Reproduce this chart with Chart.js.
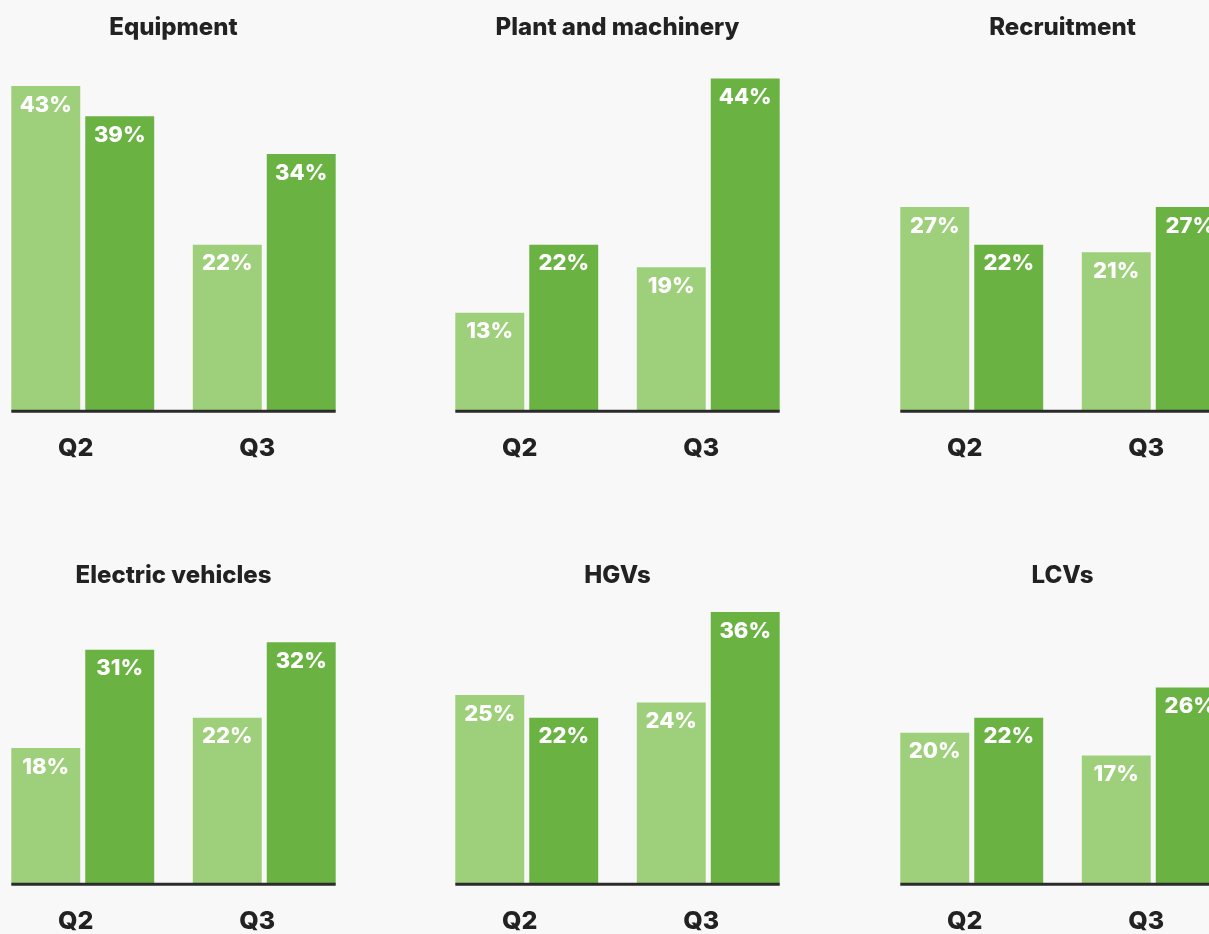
<!DOCTYPE html>
<html>
<head>
<meta charset="utf-8">
<script src="https://cdn.jsdelivr.net/npm/chart.js@4.4.1/dist/chart.umd.min.js"></script>
<style>
  html, body { margin: 0; padding: 0; background: #f8f8f8; overflow: hidden; }
  body { width: 1209px; height: 934px; position: relative; }
  .panel { position: absolute; }
</style>
</head>
<body>
<div id="charts"></div>
<script>
// chart data
const quarters = ["Q2", "Q3"];
const titles = ["Equipment", "Plant and machinery", "Recruitment", "Electric vehicles", "HGVs", "LCVs"];
const lightValues = [
  [43, 22],
  [13, 19],
  [27, 21],
  [18, 22],
  [25, 24],
  [20, 17]
];
const darkValues = [
  [39, 34],
  [22, 44],
  [22, 27],
  [31, 32],
  [22, 36],
  [22, 26]
];

const LIGHT = "#9ecf7a";
const DARK = "#6ab343";
const FONT = "Inter, 'Open Sans', sans-serif";

// panel placement
const colLeft = [-8, 436, 881];
const rows = [
  { top: 1, height: 486, yMax: 45, titleBottom: 28.2 },
  { top: 549, height: 411, yMax: 38, titleBottom: 6.1 }
];

// white % labels inside the top of each bar
const barLabels = {
  id: "barLabels",
  afterDatasetsDraw(chart) {
    const ctx = chart.ctx;
    ctx.save();
    ctx.fillStyle = "#ffffff";
    ctx.font = "800 22px " + FONT;
    ctx.textAlign = "center";
    ctx.textBaseline = "middle";
    chart.data.datasets.forEach((ds, i) => {
      chart.getDatasetMeta(i).data.forEach((bar, j) => {
        ctx.fillText(ds.data[j] + "%", bar.x, bar.y + 19);
      });
    });
    ctx.restore();
  }
};

// baseline under the bars only
const baseLine = {
  id: "baseLine",
  afterDatasetsDraw(chart) {
    const first = chart.getDatasetMeta(0).data[0];
    const last = chart.getDatasetMeta(1).data[1];
    const y = chart.scales.y.getPixelForValue(0) + 0.5;
    const ctx = chart.ctx;
    ctx.save();
    ctx.strokeStyle = "#2b2b2b";
    ctx.lineWidth = 3;
    ctx.beginPath();
    ctx.moveTo(first.x - first.width / 2, y);
    ctx.lineTo(last.x + last.width / 2, y);
    ctx.stroke();
    ctx.restore();
  }
};

const holder = document.getElementById("charts");

titles.forEach((title, k) => {
  const row = rows[Math.floor(k / 3)];
  const div = document.createElement("div");
  div.className = "panel";
  div.style.left = colLeft[k % 3] + "px";
  div.style.top = row.top + "px";
  div.style.width = "363px";
  div.style.height = row.height + "px";
  const canvas = document.createElement("canvas");
  div.appendChild(canvas);
  holder.appendChild(div);

  new Chart(canvas.getContext("2d"), {
    type: "bar",
    data: {
      labels: quarters,
      datasets: [
        { data: lightValues[k], backgroundColor: LIGHT },
        { data: darkValues[k], backgroundColor: DARK }
      ]
    },
    options: {
      responsive: true,
      maintainAspectRatio: false,
      animation: false,
      layout: { padding: 0 },
      categoryPercentage: 0.815,
      barPercentage: 0.932,
      plugins: {
        legend: { display: false },
        tooltip: { enabled: false },
        title: {
          display: true,
          text: title,
          color: "#222222",
          font: { family: FONT, size: 24, weight: 800, lineHeight: 1.2 },
          padding: { top: 12, bottom: row.titleBottom + 1 }
        }
      },
      scales: {
        x: {
          grid: { display: false, drawTicks: false },
          border: { display: false },
          ticks: {
            color: "#222222",
            padding: 23.1,
            labelOffset: -7,
            font: { family: FONT, size: 25, weight: 800, lineHeight: 1.2 }
          }
        },
        y: {
          display: false,
          min: 0,
          max: row.yMax
        }
      }
    },
    plugins: [barLabels, baseLine]
  });
});
</script>
</body>
</html>
